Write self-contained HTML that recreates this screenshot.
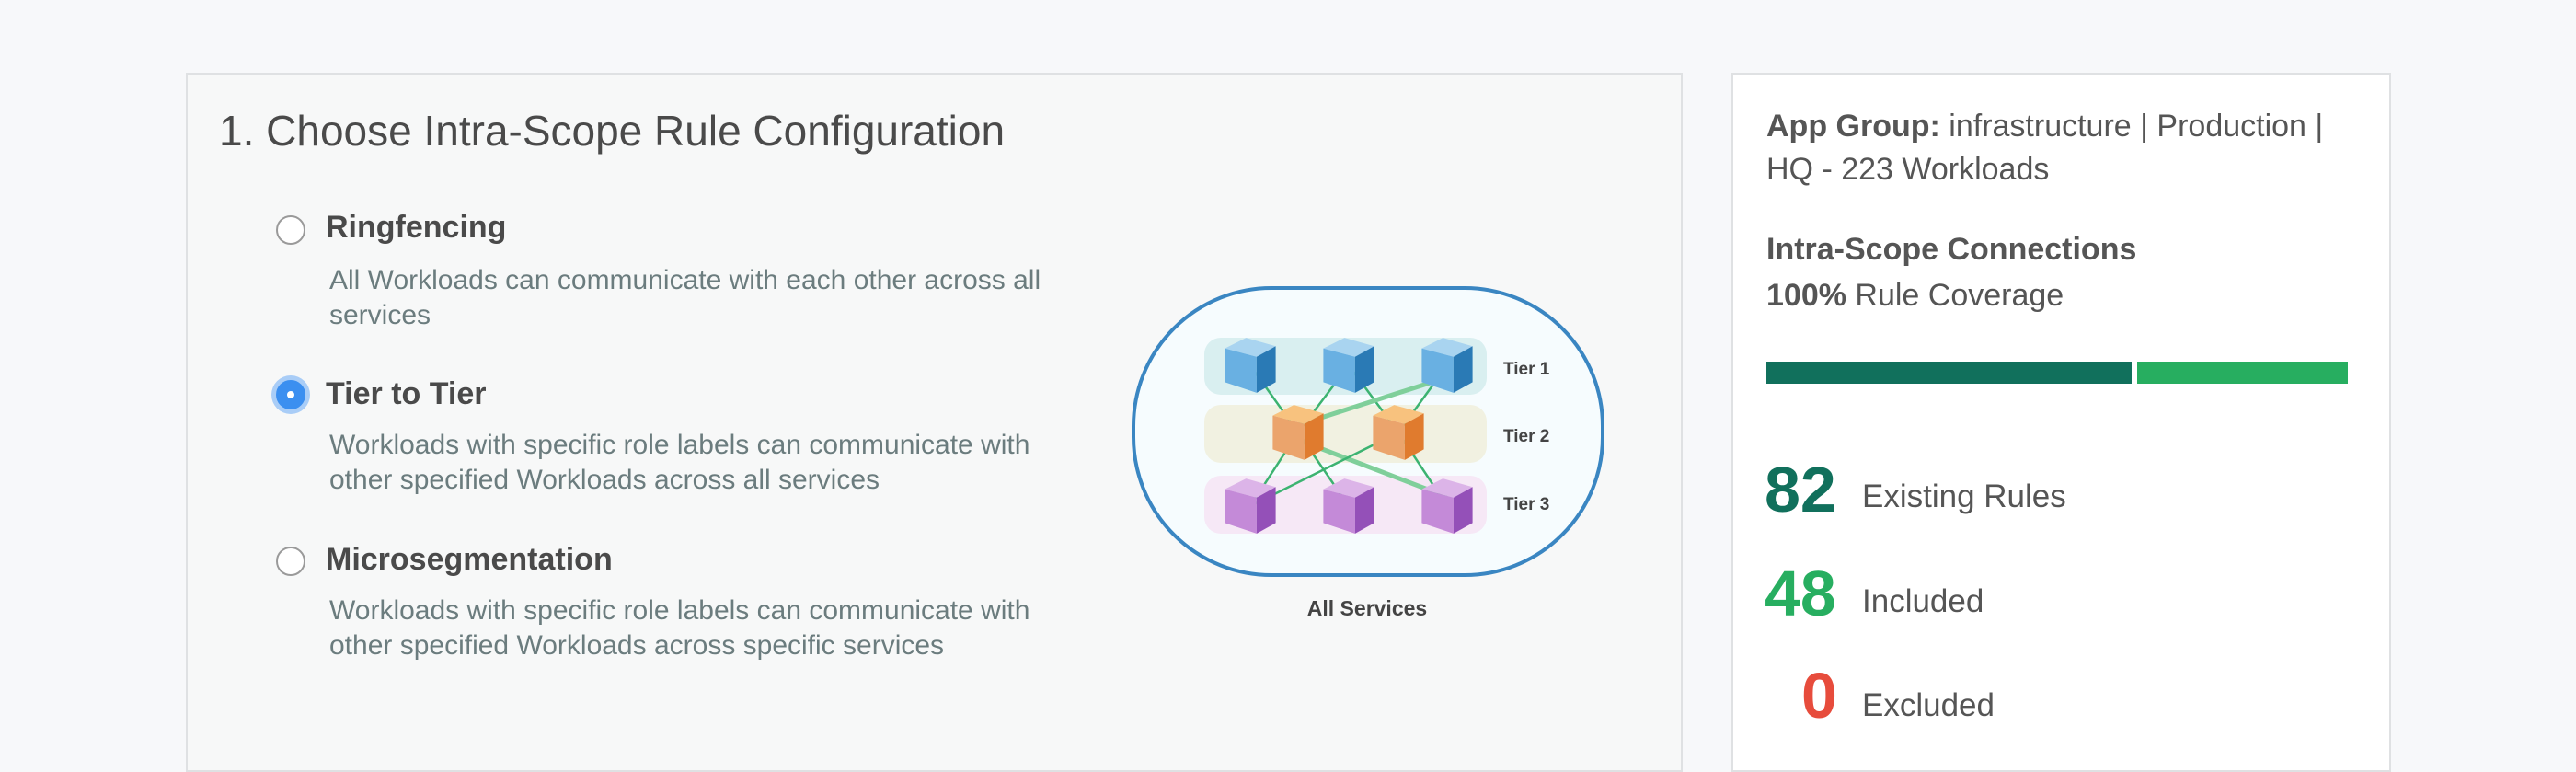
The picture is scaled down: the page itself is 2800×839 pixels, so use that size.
<!DOCTYPE html>
<html><head><meta charset="utf-8"><style>
*{margin:0;padding:0;box-sizing:border-box}
body{width:2800px;height:800px;background:#f7f8fa;position:relative;overflow:hidden;font-family:"Liberation Sans",Arial,sans-serif}
.abs{position:absolute;white-space:nowrap}
#left{position:absolute;left:202px;top:79px;width:1627px;height:760px;background:#f7f8f8;border:2px solid #dfe1e3}
#right{position:absolute;left:1882px;top:79px;width:717px;height:760px;background:#fff;border:2px solid #dfe1e3}
.title{font-size:46px;color:#4a4a4a;left:238px;top:115px}
.radio{position:absolute;width:32px;height:32px;border-radius:50%;border:2px solid #9a9a9a;background:#fff}
.sel{background:#3b8ff0;border-color:#3b8ff0;box-shadow:0 0 0 5px #a9cdf7}
.sel::after{content:"";position:absolute;left:10px;top:10px;width:8px;height:8px;border-radius:50%;background:#fff}
.opt{font-size:34px;font-weight:bold;color:#4a4a4a;left:354px}
.desc{font-size:30px;color:#6b7c7e;left:358px;line-height:38px}
.r{font-size:34px;color:#555;left:1920px}
.num{font-size:70px;font-weight:bold}
.lbl{font-size:35px;color:#555;left:2024px}
</style></head><body>
<div id="left"></div>
<div id="right"></div>
<div class="abs title">1. Choose Intra-Scope Rule Configuration</div>

<div class="radio" style="left:300px;top:234px"></div>
<div class="abs opt" style="top:228px">Ringfencing</div>
<div class="abs desc" style="top:286px">All Workloads can communicate with each other across all<br>services</div>

<div class="radio sel" style="left:300px;top:413px"></div>
<div class="abs opt" style="top:409px">Tier to Tier</div>
<div class="abs desc" style="top:465px">Workloads with specific role labels can communicate with<br>other specified Workloads across all services</div>

<div class="radio" style="left:300px;top:594px"></div>
<div class="abs opt" style="top:589px">Microsegmentation</div>
<div class="abs desc" style="top:645px">Workloads with specific role labels can communicate with<br>other specified Workloads across specific services</div>

<svg class="abs" style="left:0;top:0" width="2800" height="800">
<defs>
<g id="cb" transform="scale(1.15)"><polygon points="-24,-16 -4,-26 24,-18 6,-8" fill="#a9d4f0"/><polygon points="-24,-16 6,-8 6,26 -24,16" fill="#69b0e2"/><polygon points="6,-8 24,-18 24,16 6,26" fill="#2a7ab5"/></g>
<g id="co" transform="scale(1.15)"><polygon points="-24,-16 -4,-26 24,-18 6,-8" fill="#f8c27e"/><polygon points="-24,-16 6,-8 6,26 -24,16" fill="#eba46c"/><polygon points="6,-8 24,-18 24,16 6,26" fill="#e07b2e"/></g>
<g id="cp" transform="scale(1.15)"><polygon points="-24,-16 -4,-26 24,-18 6,-8" fill="#dcb4e8"/><polygon points="-24,-16 6,-8 6,26 -24,16" fill="#c48ad8"/><polygon points="6,-8 24,-18 24,16 6,26" fill="#9450b8"/></g>
</defs>
<rect x="1232" y="313" width="510" height="312" rx="150" fill="#f6fcfe" stroke="#3a86c2" stroke-width="4"/>
<rect x="1309" y="367" width="307" height="62" rx="18" fill="#d9eff0"/>
<rect x="1309" y="440" width="307" height="63" rx="18" fill="#f1f1e1"/>
<rect x="1309" y="517" width="307" height="63" rx="18" fill="#f6e8f6"/>
<g stroke="#3cb371" stroke-width="2.5">
<line x1="1359" y1="397" x2="1411" y2="470"/><line x1="1466" y1="397" x2="1411" y2="470"/>
<line x1="1466" y1="397" x2="1520" y2="470"/><line x1="1573" y1="397" x2="1520" y2="470"/>
<line x1="1573" y1="410" x2="1411" y2="462" stroke-width="5" stroke="#7fcf9a"/>
<line x1="1411" y1="470" x2="1359" y2="550"/><line x1="1411" y1="470" x2="1466" y2="550"/>
<line x1="1411" y1="478" x2="1573" y2="540" stroke-width="5" stroke="#7fcf9a"/>
<line x1="1520" y1="470" x2="1359" y2="550"/><line x1="1520" y1="470" x2="1573" y2="550"/>
</g>
<use href="#cb" x="1359" y="397"/><use href="#cb" x="1466" y="397"/><use href="#cb" x="1573" y="397"/>
<use href="#co" x="1411" y="470"/><use href="#co" x="1520" y="470"/>
<use href="#cp" x="1359" y="550"/><use href="#cp" x="1466" y="550"/><use href="#cp" x="1573" y="550"/>
<g font-family="Liberation Sans, Arial, sans-serif" font-weight="bold" font-size="19" fill="#444">
<text x="1634" y="407">Tier 1</text><text x="1634" y="480">Tier 2</text><text x="1634" y="554">Tier 3</text>
<text x="1486" y="669" text-anchor="middle" font-size="23">All Services</text>
</g>
</svg>

<div class="abs r" style="top:118px"><b>App Group:</b> infrastructure | Production |</div>
<div class="abs r" style="top:165px">HQ - 223 Workloads</div>
<div class="abs r" style="top:252px;font-weight:bold">Intra-Scope Connections</div>
<div class="abs r" style="top:302px"><b>100%</b> Rule Coverage</div>
<div class="abs" style="left:1920px;top:393px;width:397px;height:24px;background:#11705c"></div>
<div class="abs" style="left:2323px;top:393px;width:229px;height:24px;background:#27ae60"></div>

<div class="abs num" style="left:1918px;top:492px;color:#11705c">82</div>
<div class="abs lbl" style="top:520px">Existing Rules</div>
<div class="abs num" style="left:1918px;top:605px;color:#27ae60">48</div>
<div class="abs lbl" style="top:634px">Included</div>
<div class="abs num" style="left:1958px;top:716px;color:#e74c3c">0</div>
<div class="abs lbl" style="top:747px">Excluded</div>
</body></html>
